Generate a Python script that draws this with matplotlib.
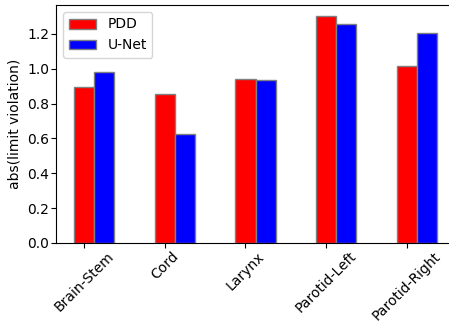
import numpy as np
import matplotlib
matplotlib.use("Agg")
import matplotlib.pyplot as plt

organs = ["Brain-Stem", "Cord", "Larynx", "Parotid-Left", "Parotid-Right"]
pdd = [0.892, 0.853, 0.938, 1.300, 1.018]
unet = [0.978, 0.626, 0.936, 1.255, 1.207]

width = 0.25
x = np.arange(len(organs))

fig = plt.figure(figsize=(4.49, 3.23), dpi=100)
ax = fig.add_axes([56 / 449, 80 / 323, 399 / 449, 238 / 323])

ax.bar(x, pdd, width, color="red", edgecolor="grey", label="PDD")
ax.bar(x + width, unet, width, color="blue", edgecolor="grey", label="U-Net")

ax.set_xticks(x)
ax.set_xticklabels(organs, rotation=45, fontsize=10)
ax.tick_params(axis="y", labelsize=10, pad=1.5)
ax.tick_params(axis="x", pad=1)
ax.set_ylabel("abs(limit violation)", fontsize=10)
ax.legend(loc="upper left", fontsize=10)

fig.savefig("out.png", dpi=100)
